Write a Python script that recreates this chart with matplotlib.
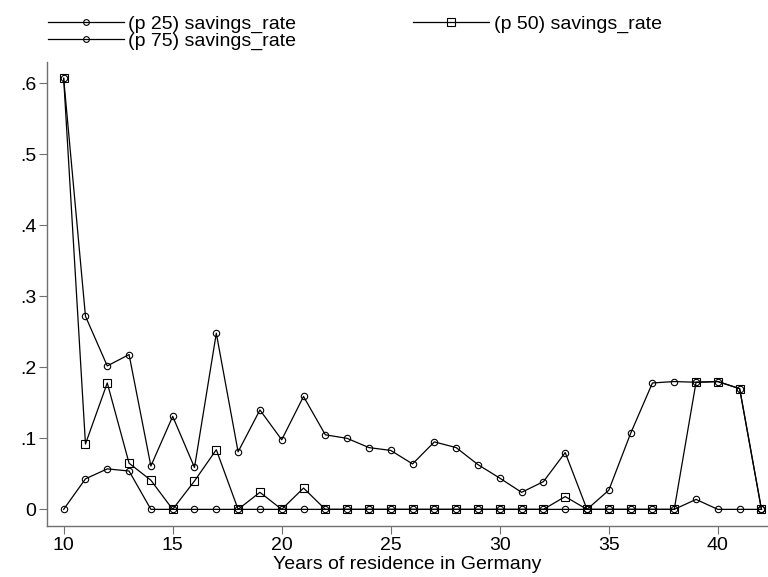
import matplotlib
matplotlib.use('Agg')
import matplotlib.pyplot as plt

# years of residence
years = list(range(10, 43))

p25 = [0.0, 0.043, 0.057, 0.054, 0.0, 0.0, 0.0, 0.0, 0.0, 0.0, 0.0,
       0.0, 0.0, 0.0, 0.0, 0.0, 0.0, 0.0, 0.0, 0.0, 0.0, 0.0, 0.0,
       0.0, 0.0, 0.0, 0.0, 0.0, 0.0, 0.014, 0.0, 0.0, 0.0]

p50 = [0.607, 0.092, 0.178, 0.065, 0.041, 0.0, 0.040, 0.084, 0.0, 0.024, 0.0,
       0.030, 0.0, 0.0, 0.0, 0.0, 0.0, 0.0, 0.0, 0.0, 0.0, 0.0, 0.0,
       0.018, 0.0, 0.0, 0.0, 0.0, 0.0, 0.179, 0.180, 0.170, 0.0]

p75 = [0.607, 0.272, 0.202, 0.218, 0.061, 0.131, 0.059, 0.248, 0.081, 0.140, 0.098,
       0.159, 0.105, 0.100, 0.087, 0.083, 0.064, 0.095, 0.087, 0.063, 0.044, 0.024, 0.039,
       0.080, 0.0, 0.027, 0.107, 0.178, 0.180, 0.179, 0.180, 0.170, 0.0]

series = [
    ('(p 25) savings_rate', p25, 'o', 4.6),
    ('(p 50) savings_rate', p50, 's', 6.2),
    ('(p 75) savings_rate', p75, 'o', 4.6),
]

plt.rcParams['font.family'] = ['Liberation Sans', 'DejaVu Sans']

fig = plt.figure(figsize=(7.68, 5.77), dpi=100)
ax = fig.add_axes([47.3 / 768, 1 - 525.7 / 577, 1 - 47.3 / 768, (525.7 - 62) / 577])

lines = {}
for label, vals, marker, ms in series:
    ln, = ax.plot(years, vals, color='black', linewidth=0.9, marker=marker, markersize=ms,
                  markerfacecolor='none', markeredgecolor='black', markeredgewidth=0.8,
                  label=label)
    lines[label] = ln

ax.set_xlim(9.25, 42.3)
ax.set_ylim(-0.023, 0.63)
ax.set_xticks([10, 15, 20, 25, 30, 35, 40])
ax.set_yticks([0, 0.1, 0.2, 0.3, 0.4, 0.5, 0.6])
ax.set_yticklabels(['0', '.1', '.2', '.3', '.4', '.5', '.6'])

for side in ['top', 'right']:
    ax.spines[side].set_visible(False)
for side in ['left', 'bottom']:
    ax.spines[side].set_color('#707070')
    ax.spines[side].set_linewidth(1.0)

ax.tick_params(axis='both', direction='out', length=6, width=0.8, colors='#707070',
               labelcolor='black', labelsize=14, pad=2)
ax.set_xlabel('Years of residence in Germany', fontsize=14, labelpad=1.5)

# legend filled column-wise: p25 / p75 in column 1, p50 in column 2
order = ['(p 25) savings_rate', '(p 75) savings_rate', '(p 50) savings_rate']
fig.legend([lines[k] for k in order], order, loc='upper left',
           bbox_to_anchor=(40 / 768, 1 - 7 / 577), ncol=2,
           frameon=False, fontsize=14, handlelength=3.9, handletextpad=0.25,
           columnspacing=6.0, labelspacing=0.0, borderaxespad=0, markerscale=0.9)

fig.savefig('out.png', dpi=100)
